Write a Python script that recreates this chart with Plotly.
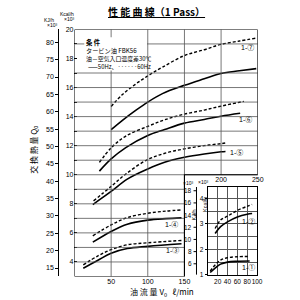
import plotly.graph_objects as go

KCAL_TO_KJ = 4.186

# ---------------- data (Q in Kcal/h x10^3, V in l/min) ----------------
# main chart curves
v_7_50 = [50, 65, 83, 100, 120, 150, 177, 200, 225, 248]
q_7_50 = [13.1, 13.73, 14.41, 15.0, 15.58, 16.15, 16.6, 16.97, 17.15, 17.3]
v_7_60 = [50, 65, 83, 100, 120, 150, 177, 200, 225, 248]
q_7_60 = [14.7, 15.5, 16.22, 16.8, 17.4, 18.2, 18.6, 18.97, 19.2, 19.4]

v_6_50 = [34, 50, 70, 100, 123, 150, 177, 200, 226]
q_6_50 = [10.25, 11.09, 11.87, 12.7, 13.11, 13.55, 13.8, 14.03, 14.23]
v_6_60 = [34, 50, 70, 100, 123, 150, 177, 200, 231]
q_6_60 = [10.85, 11.85, 12.66, 13.33, 13.78, 14.17, 14.45, 14.72, 15.05]

v_5_50 = [25, 50, 72, 100, 123, 150, 177, 200, 206]
q_5_50 = [7.95, 8.85, 9.7, 10.4, 10.86, 11.2, 11.43, 11.58, 11.6]
v_5_60 = [26, 50, 70, 100, 125, 150, 177, 200, 208]
q_5_60 = [8.2, 9.2, 10.05, 11.05, 11.5, 11.78, 12.0, 12.14, 12.2]

v_4_50 = [25, 50, 72, 100, 125, 146]
q_4_50 = [5.36, 6.1, 6.6, 6.88, 6.98, 7.03]
v_4_60 = [25, 50, 72, 100, 125, 146]
q_4_60 = [5.8, 6.55, 7.05, 7.35, 7.5, 7.58]

v_3_50 = [12, 32, 50, 72, 100, 146]
q_3_50 = [3.57, 4.12, 4.6, 4.92, 5.07, 5.25]
v_3_60 = [12, 32, 50, 72, 100, 146]
q_3_60 = [3.8, 4.42, 4.85, 5.18, 5.32, 5.48]

# inset curves
v_2_50 = [15, 26, 40, 60, 80, 90]
q_2_50 = [2.62, 2.89, 3.08, 3.27, 3.38, 3.41]
v_2_60 = [15, 26, 40, 60, 80, 90]
q_2_60 = [2.82, 3.15, 3.3, 3.53, 3.69, 3.76]

v_1_50 = [5, 16, 26, 40, 60, 85]
q_1_50 = [1.09, 1.28, 1.42, 1.5, 1.53, 1.54]
v_1_60 = [5, 16, 26, 40, 60, 85]
q_1_60 = [1.15, 1.41, 1.58, 1.67, 1.71, 1.72]

# axes / ticks
main_x_ticks_low = [50, 100, 150]
main_x_ticks_high = [200, 250]
main_kcal_ticks = [4, 6, 8, 10, 12, 14, 16, 18, 20]
main_kj_ticks = [15, 20, 25, 30, 35, 40, 45, 50, 55, 60, 65, 70, 75, 80]
main_grid_q = [4, 5, 6, 7, 8, 9, 10, 11, 12, 13, 14, 15, 16, 17, 19]
main_grid_v = [50, 100, 150, 200]
X_MAX, X_CUT = 250, 150
Q_MIN, Q_CUT, Q_MAX = 3, 10, 20

inset_x_ticks = [20, 40, 60, 80, 100]
inset_kcal_ticks = [1, 2, 3, 4]
inset_kj_ticks = [6, 8, 10, 12, 14, 16, 18]
IN_X_MAX = 100
IN_Q_MIN, IN_Q_MAX = 1, 4.45

# ---------------- figure ----------------
W = H = 300
def px(x):
    return x / W
def py(y):
    return 1 - y / H

LATIN = "Liberation Sans, Noto Sans CJK JP"
CJK = "Noto Sans CJK JP, Liberation Sans"
GRID = "#555"

fig = go.Figure()

solid = dict(color="black", width=1.6)
dashed = dict(color="black", width=1.4, dash="3px,2px")

main_pairs = [(v_7_50, q_7_50, v_7_60, q_7_60), (v_6_50, q_6_50, v_6_60, q_6_60),
              (v_5_50, q_5_50, v_5_60, q_5_60), (v_4_50, q_4_50, v_4_60, q_4_60),
              (v_3_50, q_3_50, v_3_60, q_3_60)]
for a, b, c, d in main_pairs:
    fig.add_trace(go.Scatter(x=a, y=b, mode="lines", line=dict(shape="spline", **solid),
                             xaxis="x", yaxis="y", hoverinfo="skip"))
    fig.add_trace(go.Scatter(x=c, y=d, mode="lines", line=dict(shape="spline", **dashed),
                             xaxis="x", yaxis="y", hoverinfo="skip"))

inset_pairs = [(v_2_50, q_2_50, v_2_60, q_2_60), (v_1_50, q_1_50, v_1_60, q_1_60)]
for a, b, c, d in inset_pairs:
    fig.add_trace(go.Scatter(x=a, y=b, mode="lines", line=dict(shape="spline", **solid),
                             xaxis="x2", yaxis="y2", hoverinfo="skip"))
    fig.add_trace(go.Scatter(x=c, y=d, mode="lines", line=dict(shape="spline", **dashed),
                             xaxis="x2", yaxis="y2", hoverinfo="skip"))

# empty traces so the extra axes get drawn
fig.add_trace(go.Scatter(x=[], y=[], xaxis="x3", yaxis="y", hoverinfo="skip"))
fig.add_trace(go.Scatter(x=[], y=[], xaxis="x", yaxis="y4", hoverinfo="skip"))

tickfont = dict(family=LATIN, size=7, color="black")
small_tickfont = dict(family=LATIN, size=6.5, color="black")
main_xdom = [px(76), px(263)]
main_ydom = [py(279), py(26)]
in_xdom = [px(212), px(262.3)]
in_ydom = [py(277.3), py(187.3)]

fig.update_layout(
    width=W, height=H, margin=dict(l=0, r=0, t=0, b=0),
    paper_bgcolor="white", plot_bgcolor="rgba(0,0,0,0)", showlegend=False,
    xaxis=dict(domain=main_xdom, range=[0, X_MAX], anchor="y", showgrid=False, zeroline=False,
               showline=False, tickvals=main_x_ticks_low, ticks="", tickangle=0,
               tickfont=tickfont),
    xaxis3=dict(overlaying="x", anchor="free", position=py(174), range=[0, X_MAX],
                showgrid=False, zeroline=False, showline=False, tickvals=main_x_ticks_high,
                ticks="", tickangle=0, tickfont=tickfont, side="bottom"),
    yaxis=dict(domain=main_ydom, range=[Q_MIN, Q_MAX], anchor="x", showgrid=False, zeroline=False,
               showline=False, tickvals=main_kcal_ticks, ticks="inside", ticklen=3,
               tickcolor="black", tickfont=tickfont,
               minor=dict(ticks="inside", ticklen=3, tickcolor="black", dtick=1, tick0=0,
                          showgrid=False)),
    yaxis4=dict(overlaying="y", anchor="free", position=px(59.5), side="left",
                range=[Q_MIN * KCAL_TO_KJ, Q_MAX * KCAL_TO_KJ], showgrid=False, zeroline=False,
                showline=True, linecolor="black", linewidth=1, tickvals=main_kj_ticks,
                ticks="outside", ticklen=3, tickcolor="black", tickfont=tickfont),
    xaxis2=dict(domain=in_xdom, range=[0, IN_X_MAX], anchor="y2", showgrid=True, gridcolor=GRID,
                gridwidth=0.8, zeroline=False, showline=True, mirror=True, linecolor="black",
                linewidth=1, tickvals=inset_x_ticks, ticks="", tickangle=0,
                tickfont=small_tickfont),
    yaxis2=dict(domain=in_ydom, range=[IN_Q_MIN, IN_Q_MAX], anchor="x2", showgrid=True,
                gridcolor=GRID, gridwidth=0.8, zeroline=False, showline=True, mirror=True,
                linecolor="black", linewidth=1, tickvals=inset_kcal_ticks,
                ticks="outside", ticklen=2, tickcolor="black", tickfont=small_tickfont,
                minor=dict(showgrid=True, gridcolor=GRID, gridwidth=0.8, dtick=0.5, tick0=0,
                           ticks="")),
)

shapes = []
grid_line = dict(color=GRID, width=0.8)
for q in main_grid_q:
    x_end = X_MAX if q >= Q_CUT else X_CUT
    shapes.append(dict(type="line", xref="x", yref="y", x0=0, x1=x_end, y0=q, y1=q,
                       line=grid_line, layer="above"))
for v in main_grid_v:
    y0 = Q_MIN if v <= X_CUT else Q_CUT
    shapes.append(dict(type="line", xref="x", yref="y", x0=v, x1=v, y0=y0, y1=Q_MAX,
                       line=grid_line, layer="above"))
# white area behind the conditions text
shapes.append(dict(type="rect", xref="paper", yref="paper", x0=px(86), x1=px(150),
                   y0=py(68), y1=py(34), fillcolor="white", line=dict(width=0), layer="above"))
# L-shaped frame of main chart
frame = (f"M 0,{Q_MIN} L {X_CUT},{Q_MIN} L {X_CUT},{Q_CUT} L {X_MAX},{Q_CUT} "
         f"L {X_MAX},{Q_MAX} L 0,{Q_MAX} Z")
shapes.append(dict(type="path", xref="x", yref="y", path=frame,
                   line=dict(color="black", width=1.1), layer="above"))

# inset KJ/h scale, drawn on the inset's own Kcal scale
KJ_AXIS_X = px(200.5)
KJ_TICK_X = px(197.5)
shapes.append(dict(type="line", xref="paper", yref="y2", x0=KJ_AXIS_X, x1=KJ_AXIS_X,
                   y0=IN_Q_MIN, y1=IN_Q_MAX, line=dict(color="black", width=1), layer="above"))
for kj in inset_kj_ticks:
    q = kj / KCAL_TO_KJ
    shapes.append(dict(type="line", xref="paper", yref="y2", x0=KJ_TICK_X, x1=KJ_AXIS_X,
                       y0=q, y1=q, line=dict(color="black", width=1), layer="above"))
fig.update_layout(shapes=shapes)

ann = []
def text(x, y, t, size, family=CJK, angle=0, xanchor="center", bold=False):
    if bold:
        t = f"<b>{t}</b>"
    ann.append(dict(x=px(x), y=py(y), xref="paper", yref="paper", text=t, showarrow=False,
                    xanchor=xanchor, yanchor="middle", textangle=angle, borderpad=0,
                    font=dict(family=family, size=size, color="black")))

for kj in inset_kj_ticks:
    ann.append(dict(x=KJ_TICK_X - px(0.5), y=kj / KCAL_TO_KJ, xref="paper", yref="y2",
                    text=str(kj), showarrow=False, xanchor="right", yanchor="middle",
                    borderpad=0, font=small_tickfont))

text(160, 8, "<u>性 能 曲 線（1 Pass）</u>", 10, bold=True)
text(68, 10, "Kcal/h", 5, LATIN)
text(70, 15.5, "×10³", 5, LATIN)
text(50, 16.5, "KJ/h", 5, LATIN)
text(53, 21.5, "×10³", 5, LATIN)
text(35, 149, "交 換 熱 量 Q<sub>0</sub>", 8, angle=-90)
text(165, 295, "油 流 量 V<sub>0</sub>   ℓ/min", 8)

text(87, 39.5, "条 件", 6.3, xanchor="left", bold=True)
text(87, 47.5, "タービン油 FBK56", 6.2, xanchor="left")
text(87, 55.5, "油－空気入口温度差30℃", 5.9, xanchor="left")
text(89, 63.5, "——50Hz、······60Hz", 5.9, xanchor="left")

text(192, 183, "×10³", 5, LATIN)
text(207, 182.5, "×10³", 5, LATIN)
text(197.5, 216, "KJ/h", 5.5, LATIN, angle=-90)
text(209, 205, "Kcal/h", 5.5, LATIN, angle=-90)

curve_labels = [("1-⑦", 253, 45), ("1-⑥", 251, 118), ("1-⑤", 241, 152),
                ("1-④", 175, 226), ("1-③", 176, 252), ("1-②", 254, 223), ("1-①", 254, 270)]
for t, x, y in curve_labels:
    text(x, y, t, 7, LATIN)

fig.update_layout(annotations=ann)
fig.write_html("out.html")
